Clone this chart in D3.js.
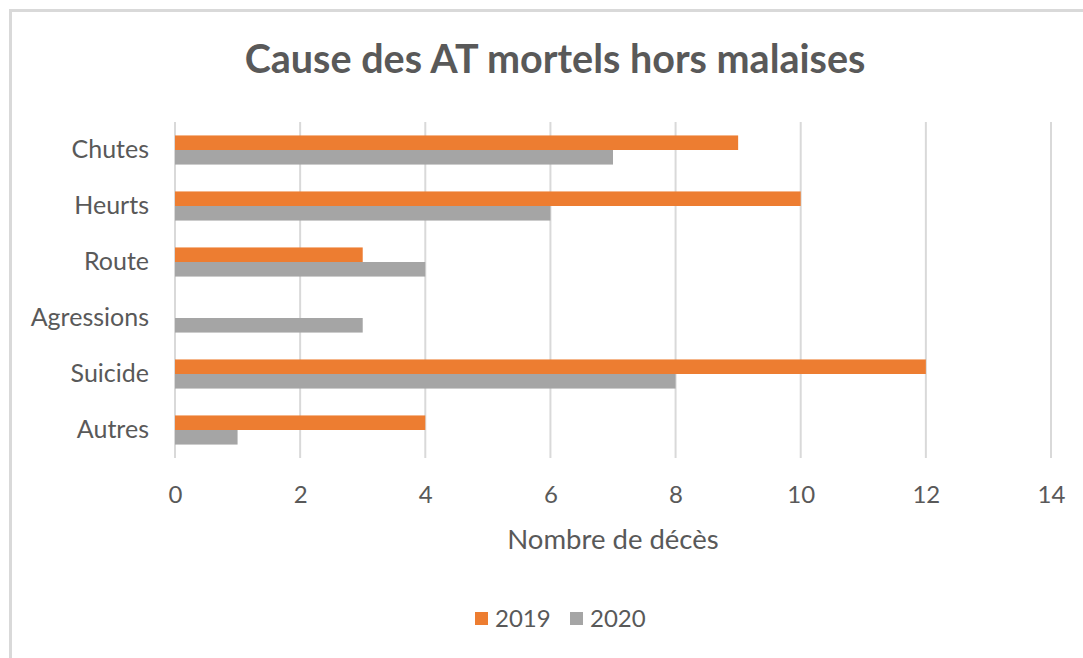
<!DOCTYPE html>
<html>
<head>
<meta charset="utf-8">
<script src="https://cdn.jsdelivr.net/npm/d3@7"></script>
<style>
  body { margin: 0; background: #fff; }
  svg { font-family: Lato, "Open Sans", sans-serif; }
</style>
</head>
<body>
<div class="chart"></div>
<script>
const categories = ["Chutes", "Heurts", "Route", "Agressions", "Suicide", "Autres"];
const seriesNames = ["2019", "2020"];
const values2019 = [9, 10, 3, 0, 12, 4];
const values2020 = [7, 6, 4, 3, 8, 1];
const xTicks = [0, 2, 4, 6, 8, 10, 12, 14];
const colors = ["#ed7d31", "#a5a5a5"];

draw();

function draw() {
    const width = 1083,
        height = 658,
        margin = {top: 122, right: 32, bottom: 200, left: 175};
    const textColor = "#595959";

    const svg = d3.select(".chart")
        .append("svg")
        .attr("width", width)
        .attr("height", height);

    // chart frame
    svg.append("rect")
        .attr("x", 10.5)
        .attr("y", 10.5)
        .attr("width", width + 20)
        .attr("height", height + 20)
        .attr("fill", "#fff")
        .attr("stroke", "#d9d9d9")
        .attr("stroke-width", 3);

    const x = d3.scaleLinear()
        .domain([0, 14])
        .range([margin.left, width - margin.right]);

    const y = d3.scaleBand()
        .domain(categories)
        .range([margin.top, height - margin.bottom])
        .paddingInner(0.48)
        .paddingOuter(0.24);

    const ySub = d3.scaleBand()
        .domain(seriesNames)
        .range([0, y.bandwidth()]);

    // gridlines
    svg.append("g")
        .selectAll("line")
        .data(xTicks)
        .join("line")
        .attr("x1", d => x(d))
        .attr("x2", d => x(d))
        .attr("y1", margin.top)
        .attr("y2", height - margin.bottom)
        .attr("stroke", "#d9d9d9")
        .attr("stroke-width", 2);

    // bars
    const rows = categories.map((c, i) => ({cat: c, vals: [values2019[i], values2020[i]]}));
    const group = svg.append("g")
        .selectAll("g")
        .data(rows)
        .join("g")
        .attr("transform", d => "translate(0," + y(d.cat) + ")");

    group.selectAll("rect")
        .data(d => d.vals.map((v, k) => ({name: seriesNames[k], value: v, k: k})))
        .join("rect")
        .attr("x", x(0))
        .attr("y", d => ySub(d.name))
        .attr("width", d => x(d.value) - x(0))
        .attr("height", ySub.bandwidth())
        .attr("fill", d => colors[d.k]);

    // x axis labels
    const xAxis = svg.append("g")
        .attr("transform", "translate(0," + (height - margin.bottom) + ")")
        .call(d3.axisBottom(x).tickValues(xTicks).tickSize(0).tickPadding(28));
    xAxis.select(".domain").remove();
    xAxis.selectAll("text")
        .attr("fill", textColor)
        .attr("font-size", "24px")
        .attr("font-family", "Lato, sans-serif");

    // y axis labels
    const yAxis = svg.append("g")
        .attr("transform", "translate(" + margin.left + ",0)")
        .call(d3.axisLeft(y).tickSize(0).tickPadding(26));
    yAxis.select(".domain").remove();
    yAxis.selectAll("text")
        .attr("fill", textColor)
        .attr("font-size", "25px")
        .attr("font-family", "Lato, sans-serif");

    // title
    svg.append("text")
        .attr("x", 555)
        .attr("y", 73)
        .attr("text-anchor", "middle")
        .attr("fill", textColor)
        .attr("font-size", "39.5px")
        .attr("font-weight", "bold")
        .text("Cause des AT mortels hors malaises");

    // axis title
    svg.append("text")
        .attr("x", (x(0) + x(14)) / 2)
        .attr("y", 549)
        .attr("text-anchor", "middle")
        .attr("fill", textColor)
        .attr("font-size", "27.5px")
        .text("Nombre de décès");

    // legend
    const legend = svg.append("g")
        .selectAll("g")
        .data(seriesNames)
        .join("g")
        .attr("transform", (d, i) => "translate(" + (475 + i * 95) + ",612)");
    legend.append("rect")
        .attr("width", 13)
        .attr("height", 13)
        .attr("fill", (d, i) => colors[i]);
    legend.append("text")
        .attr("x", 20)
        .attr("y", 15)
        .attr("fill", textColor)
        .attr("font-size", "24px")
        .text(d => d);
}
</script>
</body>
</html>
